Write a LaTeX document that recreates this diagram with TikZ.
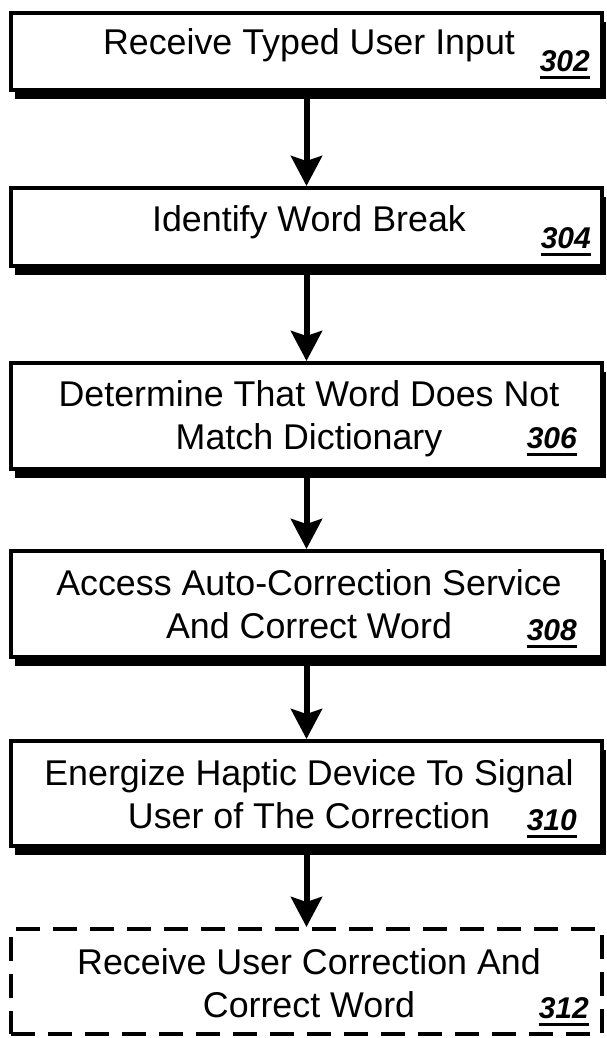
\documentclass[tikz,border=0pt]{standalone}
\usepackage{fontspec}
\setmainfont{Liberation Sans}
\usetikzlibrary{arrows.meta,shadows}
\newcommand{\stepno}[1]{{\fontsize{30}{30}\selectfont\bfseries\itshape\setbox0\hbox{#1}\rlap{\rule[-7.5pt]{\wd0}{3pt}}\box0}}
\begin{document}
\begin{tikzpicture}[x=1pt,y=1pt,yscale=-1,xscale=1,
  stepbox/.style={draw, line width=4pt, fill=white, minimum width=591pt, inner sep=0pt, drop shadow={shadow xshift=4pt, shadow yshift=-9pt, fill=black, opacity=1}},
  finalbox/.style={draw, line width=4pt, dash pattern=on 24pt off 13pt, minimum width=591pt, inner sep=0pt},
  steptext/.style={anchor=base, align=center, inner sep=0pt, font=\fontsize{35.8}{42.5}\selectfont},
  stepnum/.style={anchor=base east, inner sep=0pt},
  flow/.style={line width=6pt, -{Stealth[length=30pt, width=31pt, inset=5pt]}}]
\useasboundingbox (0,0) rectangle (606,1038);
\clip (0,0) rectangle (606,1038);

% Step Boxes
\node [stepbox, minimum height=77pt] (b302) at (306.5,51.5) {};
\node [stepbox, minimum height=78pt] (b304) at (306.5,227) {};
\node [stepbox, minimum height=106pt] (b306) at (306.5,416) {};
\node [stepbox, minimum height=106pt] (b308) at (306.5,604) {};
\node [stepbox, minimum height=105pt] (b310) at (306.5,793.5) {};
\node [finalbox, minimum height=105pt] (b312) at (306.5,981.5) {};

% Text Node (base = last line)
\node [steptext] (t302) at (309,55) {Receive Typed User Input};
\node [stepnum] (n302) at (590,72) {\stepno{302}};
% Text Node
\node [steptext] (t304) at (309,231) {Identify Word Break};
\node [stepnum] (n304) at (591,248) {\stepno{304}};
% Text Node
\node [steptext] (t306) at (309,449) {Determine That Word Does Not\\Match Dictionary};
\node [stepnum] (n306) at (577,448) {\stepno{306}};
% Text Node
\node [steptext] (t308) at (309,638) {Access Auto-Correction Service\\And Correct Word};
\node [stepnum] (n308) at (577,640) {\stepno{308}};
% Text Node
\node [steptext] (t310) at (309,828) {Energize Haptic Device To Signal\\User of The Correction};
\node [stepnum] (n310) at (577,830) {\stepno{310}};
% Text Node
\node [steptext] (t312) at (309,1017) {Receive User Correction And\\Correct Word};
\node [stepnum] (n312) at (589,1018) {\stepno{312}};

% Arrows
\draw [flow] (b302.south) -- (b304.north);
\draw [flow] (b304.south) -- (b306.north);
\draw [flow] (b306.south) -- (b308.north);
\draw [flow] (b308.south) -- (b310.north);
\draw [flow] (b310.south) -- (b312.north);

\end{tikzpicture}
\end{document}
